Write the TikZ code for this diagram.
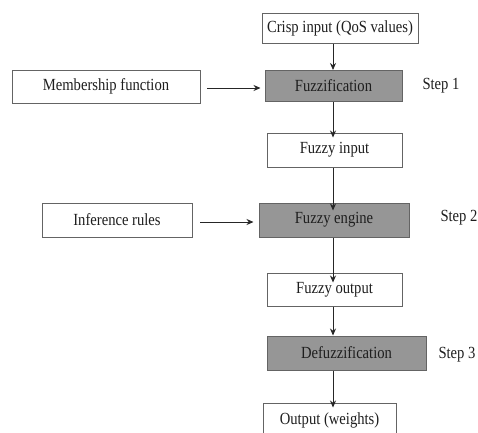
\documentclass[tikz,border=0pt]{standalone}
\usepackage{fontspec}
\setmainfont[FakeStretch=0.86]{Liberation Serif}
\usetikzlibrary{arrows.meta}
\definecolor{edgegray}{RGB}{100,100,100}
\definecolor{stepfill}{RGB}{150,150,150}
\definecolor{txt}{RGB}{30,30,30}
\tikzset{
  box/.style={draw=edgegray, line width=1pt, fill=white, inner sep=0pt,
              font=\fontsize{17}{19}\selectfont, text=txt},
  stagebox/.style={box, fill=stepfill},
  steplabel/.style={font=\fontsize{17}{19}\selectfont, text=txt, inner sep=0pt},
  flow/.style={draw=black!85, line width=0.8pt, -{Stealth[length=7pt,width=6pt]}}
}
\begin{document}
\begin{tikzpicture}[x=1pt,y=-1pt]
  \useasboundingbox (0,0) rectangle (478,432);
  % main column
  \node[box, minimum width=156pt, minimum height=30pt] (crisp) at (340,28) {Crisp input (QoS values)};
  \node[stagebox, minimum width=137pt, minimum height=31pt] (fuzz) at (333.5,86) {Fuzzification};
  \node[box, minimum width=135pt, minimum height=34pt] (fin) at (334.5,150) {Fuzzy input};
  \node[stagebox, minimum width=150pt, minimum height=34pt] (engine) at (334,220) {Fuzzy engine};
  \node[box, minimum width=135pt, minimum height=33pt] (fout) at (334.5,289.5) {Fuzzy output};
  \node[stagebox, minimum width=159pt, minimum height=34pt] (defuzz) at (346.5,353) {Defuzzification};
  \node[box, minimum width=133pt, minimum height=34pt] (out) at (329.5,420) {Output (weights)};
  % side inputs
  \node[box, minimum width=188pt, minimum height=33pt] (member) at (106,86.5) {Membership function};
  \node[box, minimum width=150pt, minimum height=34pt] (rules) at (117,220) {Inference rules};
  % step labels
  \node[steplabel] (s1) at (441,86) {Step 1};
  \node[steplabel] (s2) at (459,218) {Step 2};
  \node[steplabel] (s3) at (457,355) {Step 3};
  % vertical axis of the flow
  \coordinate (axis) at (333,0);
  \draw[flow] (crisp.south -| axis) -- (fuzz.north -| axis);
  \draw[flow] (fuzz.south -| axis) -- ([yshift=-5pt]fin.north -| axis);
  \draw[flow] (fin.south -| axis) -- ([yshift=-8pt]engine.north -| axis);
  \draw[flow] (engine.south -| axis) -- ([yshift=-10pt]fout.north -| axis);
  \draw[flow] (fout.south -| axis) -- (defuzz.north -| axis);
  \draw[flow] (defuzz.south -| axis) -- ([yshift=-5pt]out.north -| axis);
  % side arrows
  \coordinate (m1) at (207,88);
  \coordinate (r1) at (200,222);
  \draw[flow] (m1) -- ([xshift=-4pt]fuzz.west |- m1);
  \draw[flow] (r1) -- ([xshift=-5pt]engine.west |- r1);
\end{tikzpicture}
\end{document}
